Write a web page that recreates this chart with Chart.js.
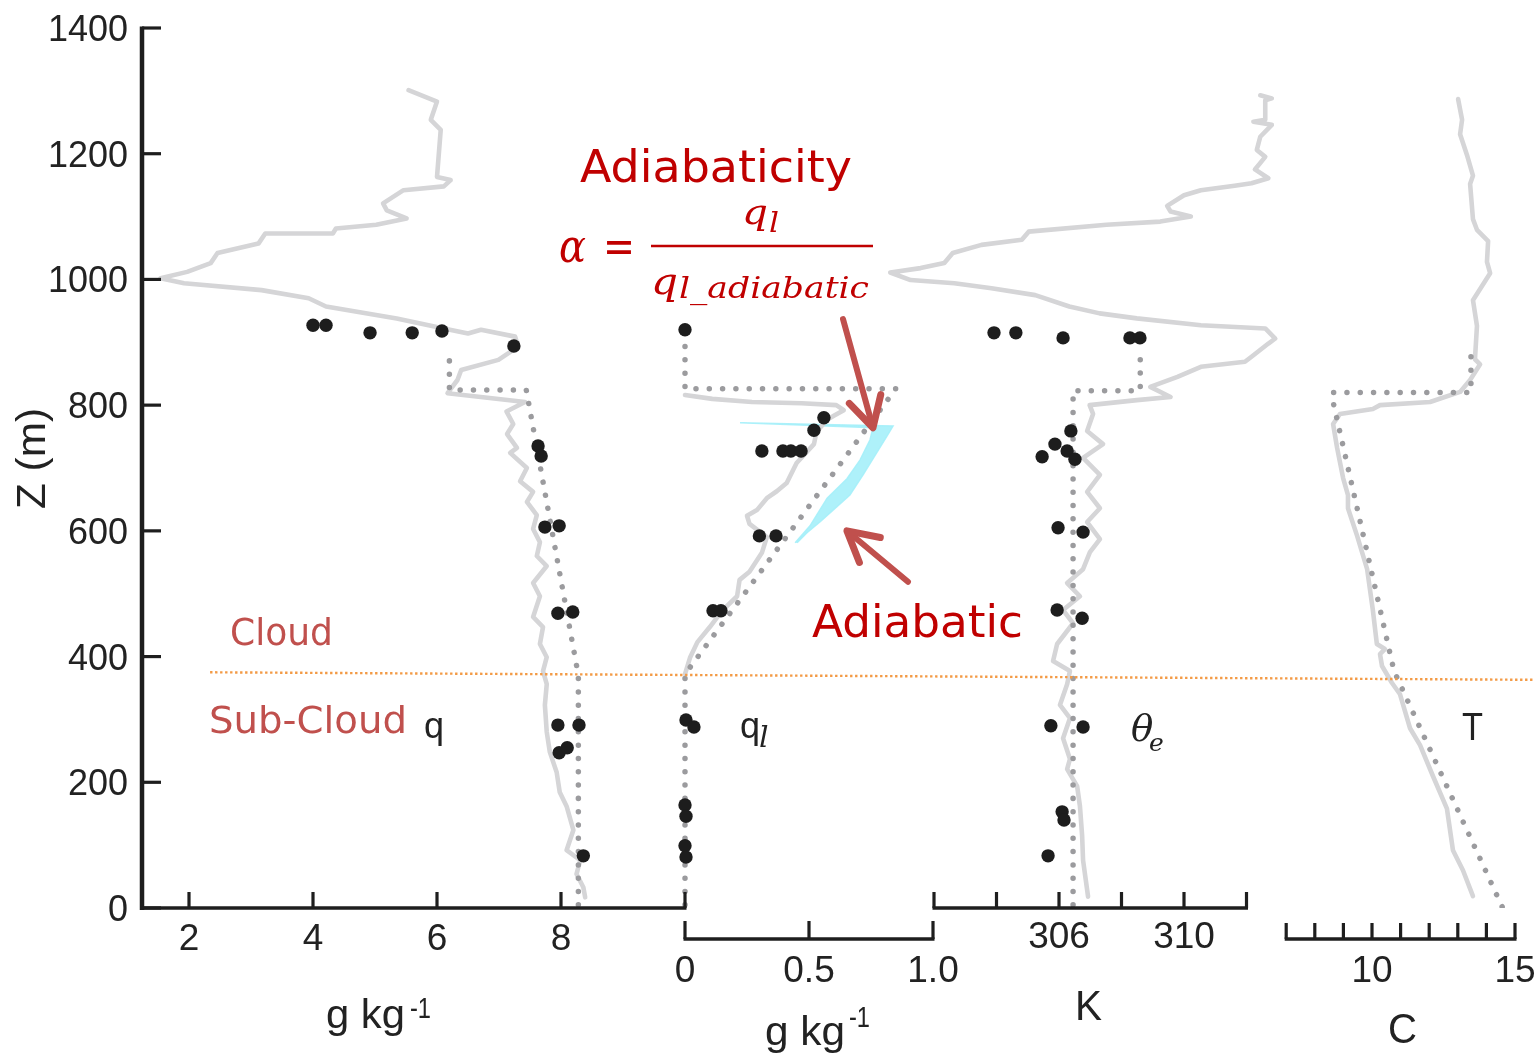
<!DOCTYPE html>
<html>
<head>
<meta charset="utf-8">
<title>Cloud profile: q, ql, θe, T</title>
<script src="https://cdn.jsdelivr.net/npm/chart.js@4.4.1/dist/chart.umd.min.js"></script>
<style>
  html, body { margin: 0; padding: 0; background: #ffffff; }
  #frame { position: relative; width: 1535px; height: 1059px; }
  canvas { display: block; }
</style>
</head>
<body>
<div id="frame"><canvas id="profiles" width="1535" height="1059"></canvas></div>
<script>
// ---------------- data ----------------
// height axis (m)
const zTicks = [0, 200, 400, 600, 800, 1000, 1200, 1400];

// total water vapour mixing ratio q (g/kg): [q, z]
const qTicks = [2, 4, 6, 8, 10];
const qTickLabels = ['2', '4', '6', '8', ''];
const qObs = [
  [5.54,1301],[6.00,1283],[5.90,1254],[6.06,1238],[6.00,1163],[6.22,1158],[6.11,1148],[5.46,1142],
  [5.13,1121],[5.19,1110],[5.51,1097],[5.02,1087],[4.37,1081],[4.32,1073],[3.23,1073],[3.12,1057],
  [2.46,1042],[2.35,1026],[1.97,1012],[1.54,1002],[1.92,994],[3.17,983],[3.93,970],[4.21,957],
  [5.35,938],[6.11,922],[6.50,914],[6.71,920],[7.26,909],[7.31,893],[6.99,872],[6.39,856],
  [6.33,840],[6.17,819],[7.42,805],[7.12,790],[7.23,770],[7.13,754],[7.29,732],[7.18,724],
  [7.45,700],[7.34,679],[7.55,662],[7.45,646],[7.61,625],[7.55,603],[7.66,582],[7.61,560],
  [7.77,544],[7.55,517],[7.66,496],[7.55,463],[7.71,447],[7.66,420],[7.77,399],[7.71,377],
  [7.77,356],[7.74,323],[7.77,280],[7.82,248],[7.93,216],[7.98,184],[8.09,162],[8.20,124],
  [8.09,92],[8.31,76],[8.25,54],[8.36,33],[8.39,17]
];
const qAdiabat = [[8.28,5],[8.28,370],[7.44,824],[6.20,824],[6.20,880]];
const qSamples = [
  [4.00,927],[4.21,927],[4.92,915],[5.60,915],[6.08,918],[7.24,894],
  [7.63,735],[7.68,719],[7.74,606],[7.97,608],[7.95,469],[8.19,471],
  [7.95,291],[8.29,291],[7.97,247],[8.10,255],[8.36,83]
];

// liquid water q_l (g/kg): [ql, z]
const qlTicks = [0, 0.5, 1.0];
const qlTickLabels = ['0', '0.5', '1.0'];
const qlObs = [
  [0.00,816],[0.11,810],[0.27,805],[0.47,803],[0.61,800],[0.64,792],[0.60,783],[0.57,776],
  [0.53,757],[0.52,738],[0.45,708],[0.41,676],[0.37,663],[0.33,652],[0.29,633],[0.25,624],
  [0.26,611],[0.33,590],[0.31,565],[0.26,535],[0.22,522],[0.21,496],[0.15,473],[0.10,447],
  [0.05,423],[0.02,398],[0.00,372]
];
const qlAdiabat = [[0,5],[0,372],[0.85,826],[0,826],[0,895]];
const qlSamples = [
  [0.00,920],[0.56,780],[0.52,760],[0.31,727],[0.395,727],[0.427,727],[0.468,727],
  [0.30,592],[0.367,592],[0.113,473],[0.145,473],[0.004,299],[0.036,288],
  [0.00,164],[0.004,146],[0.00,99],[0.004,81]
];
// adiabatic liquid water envelope (closed outline)
const qlAdiabaticBand = [
  [0.444,581],[0.504,608],[0.573,652],[0.653,683],[0.706,713],[0.746,745],[0.758,764],
  [0.222,772],[0.839,767],[0.815,751],[0.774,725],[0.718,689],[0.665,657],[0.597,633],
  [0.544,614],[0.492,597],[0.452,581]
];

// equivalent potential temperature θe (K): [θe, z]
const thetaTicks = [302, 304, 306, 308, 310, 312];
const thetaTickLabels = ['', '', '306', '', '310', ''];
const thetaObs = [
  [312.44,1293],[312.81,1288],[312.60,1285],[312.60,1254],[312.22,1251],[312.81,1246],[312.44,1227],
  [312.33,1206],[312.60,1195],[312.27,1175],[312.70,1161],[312.16,1153],[311.62,1149],[310.54,1142],
  [310.00,1134],[309.46,1117],[309.57,1108],[310.22,1100],[309.24,1092],[307.52,1087],[305.03,1076],
  [304.81,1063],[303.52,1055],[302.60,1042],[302.33,1026],[301.57,1018],[300.60,1011],[301.25,999],
  [302.65,994],[303.84,986],[305.24,975],[306.33,957],[307.30,946],[308.49,938],[310.54,927],
  [312.60,922],[312.92,906],[312.70,898],[312.16,877],[311.95,869],[310.54,861],[309.79,845],
  [308.92,829],[309.57,813],[308.49,808],[306.98,800],[307.09,786],[306.90,759],[307.41,738],
  [306.77,716],[307.31,689],[306.90,662],[307.31,636],[306.90,614],[307.31,587],[306.99,566],
  [306.77,539],[306.26,517],[306.67,496],[306.13,474],[306.45,453],[305.94,420],[305.81,393],
  [306.35,377],[306.26,356],[306.03,323],[306.35,302],[306.13,270],[306.35,237],[306.26,221],
  [306.58,194],[306.67,162],[306.74,115],[306.77,76],[306.93,18]
];
const thetaAdiabat = [[306.45,5],[306.45,823],[308.60,823],[308.60,893]];
const thetaSamples = [
  [303.92,915],[304.62,915],[306.13,907],[308.27,907],[308.59,907],
  [306.38,759],[305.87,738],[305.46,718],[306.26,727],[306.51,714],
  [305.97,605],[306.77,598],[305.94,474],[306.74,461],[305.74,290],[306.77,288],
  [306.10,153],[306.16,140],[305.65,83]
];

// temperature T (°C): [T, z]
const tempTicks = [7, 8, 9, 10, 11, 12, 13, 14, 15];
const tempTickLabels = ['', '', '', '10', '', '', '', '', '15'];
const tempObs = [
  [13.01,1287],[13.15,1254],[13.08,1231],[13.32,1198],[13.53,1165],[13.43,1152],[13.53,1096],
  [13.67,1079],[14.06,1061],[14.02,1028],[14.13,1010],[13.53,967],[13.67,926],[13.60,873],
  [13.78,865],[13.43,840],[13.08,821],[12.03,805],[10.28,800],[10.03,794],[8.88,786],[8.64,770],
  [8.78,732],[8.99,684],[9.16,657],[9.16,636],[9.48,592],[9.83,539],[10.03,474],[10.17,420],
  [10.45,412],[10.28,404],[10.35,385],[10.70,358],[10.98,340],[11.33,286],[11.68,259],[12.13,210],
  [12.62,158],[12.83,92],[13.18,60],[13.53,19]
];
const tempAdiabat = [[14.55,2],[10.77,377],[8.64,805],[8.62,820],[13.46,820],[13.46,892]];

// cloud base marker (drawn on the q axis, running across all panels)
const cloudBase = [[2.34,375],[23.71,363]];

// ---------------- layout ----------------
const CANVAS = { width: 1535, height: 1059 };
const PLOT = { left: 142, right: 1515, top: 28, bottom: 908 };

// linear x range so that value v1 lands on pixel p1 and v2 on p2
function spanFor(v1, p1, v2, p2) {
  const k = (p2 - p1) / (v2 - v1);
  const min = v1 - (p1 - PLOT.left) / k;
  return { min, max: min + (PLOT.right - PLOT.left) / k };
}

const COLORS = {
  axis: '#1e1e1e',
  text: '#222222',
  obs: '#d5d5d7',
  adiabat: '#9b9b9e',
  sample: '#1d1d1d',
  band: 'rgba(165,240,250,0.9)',
  cloudBase: '#f39a45',
  note: '#c00000',
  noteSoft: '#c0504d'
};

const pts = arr => arr.map(([x, y]) => ({ x, y }));

function obsLine(axis, arr) {
  return { data: pts(arr), xAxisID: axis, yAxisID: 'y', showLine: true, borderColor: COLORS.obs,
           borderWidth: 4.6, borderJoinStyle: 'round', borderCapStyle: 'round', pointRadius: 0, order: 3 };
}
function adiabatLine(axis, arr) {
  return { data: pts(arr), xAxisID: axis, yAxisID: 'y', showLine: true, borderColor: COLORS.adiabat,
           borderWidth: 5.5, borderDash: [0.01, 13.3], borderCapStyle: 'round', pointRadius: 0, order: 2 };
}
function sampleDots(axis, arr) {
  return { data: pts(arr), xAxisID: axis, yAxisID: 'y', showLine: false, pointRadius: 6.7,
           pointBackgroundColor: COLORS.sample, pointBorderWidth: 0, order: 0 };
}

const datasets = [
  sampleDots('xq', qSamples), sampleDots('xql', qlSamples), sampleDots('xth', thetaSamples),
  { data: pts(cloudBase), xAxisID: 'xq', yAxisID: 'y', showLine: true, borderColor: COLORS.cloudBase,
    borderWidth: 2.4, borderDash: [2.4, 2.6], pointRadius: 0, clip: false, order: 1 },
  adiabatLine('xq', qAdiabat), adiabatLine('xql', qlAdiabat), adiabatLine('xth', thetaAdiabat), adiabatLine('xT', tempAdiabat),
  obsLine('xq', qObs), obsLine('xql', qlObs), obsLine('xth', thetaObs), obsLine('xT', tempObs),
  { data: pts(qlAdiabaticBand), xAxisID: 'xql', yAxisID: 'y', showLine: true, fill: 'shape',
    backgroundColor: COLORS.band, borderColor: COLORS.band, borderWidth: 1.5, pointRadius: 0, order: 4 }
];

// ---------------- drawing helpers ----------------
function drawText(ctx, text, x, y, opt) {
  const o = Object.assign({ color: COLORS.text, align: 'left', baseline: 'alphabetic', width: null }, opt);
  ctx.save();
  ctx.font = o.font;
  ctx.fillStyle = o.color;
  ctx.textAlign = o.align;
  ctx.textBaseline = o.baseline;
  if (o.width) {
    const w = ctx.measureText(text).width;
    ctx.translate(x, y);
    ctx.scale(o.width / w, 1);
    ctx.fillText(text, 0, 0);
  } else {
    ctx.fillText(text, x, y);
  }
  ctx.restore();
}

function drawArrow(ctx, x0, y0, x1, y1) {
  const ang = Math.atan2(y1 - y0, x1 - x0);
  const wing = 34, spread = 0.5;
  ctx.save();
  ctx.strokeStyle = COLORS.noteSoft;
  ctx.lineCap = 'round';
  ctx.lineJoin = 'round';
  ctx.lineWidth = 6;
  ctx.beginPath();
  ctx.moveTo(x0, y0);
  ctx.lineTo(x1 - Math.cos(ang) * 3, y1 - Math.sin(ang) * 3);
  ctx.stroke();
  ctx.lineWidth = 7;
  ctx.beginPath();
  ctx.moveTo(x1 - wing * Math.cos(ang - spread), y1 - wing * Math.sin(ang - spread));
  ctx.lineTo(x1, y1);
  ctx.lineTo(x1 - wing * Math.cos(ang + spread), y1 - wing * Math.sin(ang + spread));
  ctx.stroke();
  ctx.restore();
}

// bottom axes, one per panel
const bottomAxes = [
  { id: 'xq',  lineY: 908, start: null, end: 10, ticks: qTicks,     labels: qTickLabels,     labelY: 950, tickLen: 16 },
  { id: 'xql', lineY: 939, start: 0,    end: 1,  ticks: qlTicks,    labels: qlTickLabels,    labelY: 982, tickLen: 18 },
  { id: 'xth', lineY: 908, start: 302,  end: 312, ticks: thetaTicks, labels: thetaTickLabels, labelY: 948, tickLen: 16 },
  { id: 'xT',  lineY: 939, start: 7,    end: 15, ticks: tempTicks,  labels: tempTickLabels,  labelY: 982, tickLen: 16 }
];

const profileAxes = {
  id: 'profileAxes',
  afterDraw(chart) {
    const ctx = chart.ctx;
    const ys = chart.scales.y;
    const area = chart.chartArea;
    const SANS = '"Liberation Sans", Arial, sans-serif';
    const SERIF_I = 'italic {s}px "DejaVu Serif", serif';
    const HAND = '"DejaVu Sans", sans-serif';

    ctx.save();
    ctx.strokeStyle = COLORS.axis;
    ctx.lineCap = 'butt';

    // vertical height axis
    ctx.lineWidth = 4.5;
    ctx.beginPath();
    ctx.moveTo(area.left, ys.getPixelForValue(0) + 2);
    ctx.lineTo(area.left, ys.getPixelForValue(1400) - 1.5);
    ctx.stroke();
    ctx.lineWidth = 3.2;
    zTicks.forEach(z => {
      const py = ys.getPixelForValue(z);
      ctx.beginPath();
      ctx.moveTo(area.left, py);
      ctx.lineTo(area.left + 19, py);
      ctx.stroke();
      drawText(ctx, String(z), 128, py + 13, { font: '36px ' + SANS, align: 'right' });
    });
    // axis title
    ctx.save();
    ctx.translate(34, 459);
    ctx.rotate(-Math.PI / 2);
    drawText(ctx, 'Z (m)', -50, 0, { font: '40px ' + SANS, baseline: 'middle', width: 101 });
    ctx.restore();

    // panel axes
    bottomAxes.forEach(ax => {
      const sc = chart.scales[ax.id];
      const x0 = ax.start === null ? area.left : sc.getPixelForValue(ax.start);
      const x1 = sc.getPixelForValue(ax.end);
      ctx.lineWidth = 3.6;
      ctx.beginPath();
      ctx.moveTo(x0 - 1.5, ax.lineY);
      ctx.lineTo(x1 + 1.5, ax.lineY);
      ctx.stroke();
      ctx.lineWidth = 3.2;
      ax.ticks.forEach((t, i) => {
        const px = sc.getPixelForValue(t);
        ctx.beginPath();
        ctx.moveTo(px, ax.lineY);
        ctx.lineTo(px, ax.lineY - ax.tickLen);
        ctx.stroke();
        if (ax.labels[i]) {
          drawText(ctx, ax.labels[i], px, ax.labelY, { font: '37px ' + SANS, align: 'center' });
        }
      });
    });

    // units
    drawText(ctx, 'g kg', 326, 1028, { font: '40px ' + SANS, width: 79 });
    drawText(ctx, '-1', 410, 1018, { font: '30px ' + SANS, width: 21 });
    drawText(ctx, 'g kg', 765, 1045, { font: '40px ' + SANS, width: 80 });
    drawText(ctx, '-1', 849, 1027, { font: '30px ' + SANS, width: 21 });
    drawText(ctx, 'K', 1075, 1020, { font: '42px ' + SANS, width: 27 });
    drawText(ctx, 'C', 1388, 1043, { font: '42px ' + SANS, width: 29 });

    // panel names
    drawText(ctx, 'q', 424, 738, { font: '36px ' + SANS });
    drawText(ctx, 'q', 740, 738, { font: '36px ' + SANS });
    drawText(ctx, 'l', 759, 747, { font: SERIF_I.replace('{s}', 30) });
    drawText(ctx, 'θ', 1131, 741, { font: SERIF_I.replace('{s}', 37) });
    drawText(ctx, 'e', 1149, 751, { font: SERIF_I.replace('{s}', 25) });
    drawText(ctx, 'T', 1462, 740, { font: '38px ' + SANS, width: 21 });

    // cloud / sub-cloud layer names
    drawText(ctx, 'Cloud', 230, 645, { font: '38px ' + HAND, color: COLORS.noteSoft, width: 103 });
    drawText(ctx, 'Sub-Cloud', 209, 733, { font: '38px ' + HAND, color: COLORS.noteSoft, width: 198 });

    // adiabaticity definition
    drawText(ctx, 'Adiabaticity', 580, 182, { font: '44px ' + HAND, color: COLORS.note, width: 272 });
    drawText(ctx, 'α', 559, 262, { font: SERIF_I.replace('{s}', 46), color: COLORS.note, width: 27 });
    drawText(ctx, '=', 603, 262, { font: '46px "DejaVu Serif", serif', color: COLORS.note, width: 32 });
    ctx.strokeStyle = COLORS.note;
    ctx.lineWidth = 2.5;
    ctx.beginPath();
    ctx.moveTo(651, 246);
    ctx.lineTo(873, 246);
    ctx.stroke();
    drawText(ctx, 'q', 742, 224, { font: SERIF_I.replace('{s}', 36), color: COLORS.note, width: 26 });
    drawText(ctx, 'l', 769, 232, { font: SERIF_I.replace('{s}', 28), color: COLORS.note, width: 10 });
    drawText(ctx, 'q', 651, 294, { font: SERIF_I.replace('{s}', 38), color: COLORS.note, width: 27 });
    drawText(ctx, 'l_adiabatic', 679, 298, { font: SERIF_I.replace('{s}', 29), color: COLORS.note, width: 190 });

    // label for the adiabatic envelope
    drawText(ctx, 'Adiabatic', 812, 637, { font: '44px ' + HAND, color: COLORS.note, width: 211 });

    // arrows (anchored in q_l / height coordinates)
    const xl = chart.scales.xql;
    drawArrow(ctx, xl.getPixelForValue(0.637), ys.getPixelForValue(937), xl.getPixelForValue(0.758), ys.getPixelForValue(764));
    drawArrow(ctx, xl.getPixelForValue(0.899), ys.getPixelForValue(519), xl.getPixelForValue(0.653), ys.getPixelForValue(600));

    ctx.restore();
  }
};

new Chart(document.getElementById('profiles'), {
  type: 'scatter',
  data: { datasets },
  options: {
    responsive: false,
    animation: false,
    devicePixelRatio: 1,
    events: [],
    layout: { padding: { left: PLOT.left, right: CANVAS.width - PLOT.right, top: PLOT.top, bottom: CANVAS.height - PLOT.bottom } },
    plugins: { legend: { display: false }, tooltip: { enabled: false } },
    scales: {
      y:   { type: 'linear', min: 0, max: 1400, display: false },
      xq:  Object.assign({ type: 'linear', axis: 'x', display: false }, spanFor(2, 189, 8, 561)),
      xql: Object.assign({ type: 'linear', axis: 'x', display: false }, spanFor(0, 685, 1, 933)),
      xth: Object.assign({ type: 'linear', axis: 'x', display: false }, spanFor(306, 1059, 310, 1184)),
      xT:  Object.assign({ type: 'linear', axis: 'x', display: false }, spanFor(10, 1372, 15, 1515))
    }
  },
  plugins: [profileAxes]
});
</script>
</body>
</html>
